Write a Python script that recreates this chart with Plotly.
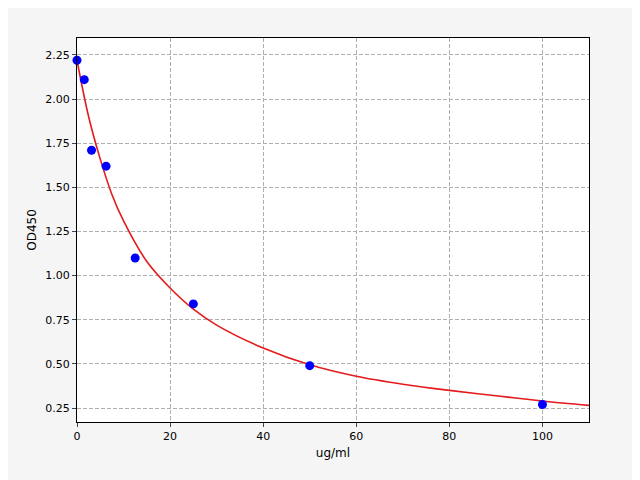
import plotly.graph_objects as go

conc = [0, 1.5625, 3.125, 6.25, 12.5, 25, 50, 100]
od = [2.22, 2.11, 1.71, 1.62, 1.10, 0.84, 0.49, 0.27]

fit_x = [0, 2.5, 5, 7.5, 10, 15, 20, 25, 30, 40, 50, 60, 70, 80, 90, 100, 110]
fit_y = [2.22, 1.90, 1.66, 1.46, 1.31, 1.08, 0.93, 0.81, 0.72, 0.59, 0.495, 0.43, 0.385, 0.35, 0.32, 0.29, 0.265]

fig = go.Figure()
fig.add_trace(go.Scatter(x=fit_x, y=fit_y, mode="lines", line=dict(color="#e41a1c", width=1.6, shape="spline"),
                         showlegend=False))
fig.add_trace(go.Scatter(x=conc, y=od, mode="markers", marker=dict(color="#0000ff", size=9),
                         showlegend=False, cliponaxis=False))

ax = dict(showline=True, linecolor="black", linewidth=1, mirror=True, ticks="outside", ticklen=4,
          gridcolor="#b0b0b0", griddash="4px,2px", zeroline=False,
          tickfont=dict(family="DejaVu Sans", size=11, color="black"))
fig.update_xaxes(range=[0, 110], dtick=20, title=dict(text="ug/ml", standoff=6,
                 font=dict(family="DejaVu Sans", size=12)), **ax)
fig.update_yaxes(range=[0.171, 2.346], dtick=0.25, tickformat=".2f",
                 title=dict(text="OD450", standoff=6, font=dict(family="DejaVu Sans", size=12)), **ax)
fig.update_layout(width=632, height=472, paper_bgcolor="#f5f5f5", plot_bgcolor="white",
                  margin=dict(l=69, r=51, t=30, b=58), font=dict(color="black"))
fig.write_html("out.html")
